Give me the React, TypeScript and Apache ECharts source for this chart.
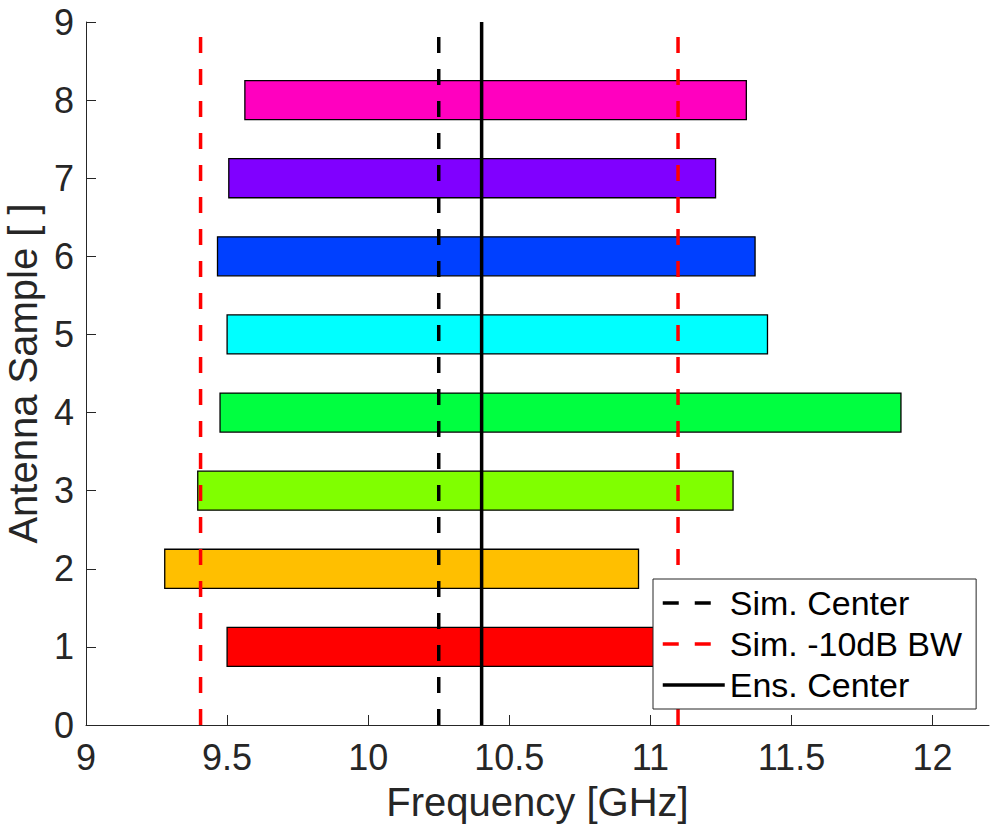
import React, { useEffect, useRef } from "react";
import * as echarts from "echarts";

const samples = [1, 2, 3, 4, 5, 6, 7, 8];
const bandStart = [9.5, 9.279, 9.396, 9.475, 9.5, 9.466, 9.506, 9.563];
const bandEnd = [11.15, 10.958, 11.293, 11.888, 11.415, 11.371, 11.231, 11.34];
const barColors = ["#ff0000", "#ffbf00", "#80ff00", "#00ff40", "#00ffff", "#0040ff", "#8000ff", "#ff00bf"];

const simCenter = 10.25;
const simBwLow = 9.406;
const simBwHigh = 11.098;
const ensCenter = 10.402;

const xTicks = [9, 9.5, 10, 10.5, 11, 11.5, 12];
const yTicks = [0, 1, 2, 3, 4, 5, 6, 7, 8, 9];

const FONT = "'Liberation Sans', Arial, Helvetica, sans-serif";
const AX = "#262626";

export default function App() {
  const ref = useRef<HTMLDivElement>(null);
  useEffect(() => {
    if (!ref.current) return;
    const chart = echarts.init(ref.current, undefined, { renderer: "svg" });
    const barData = samples.map((s, i) => [s, bandStart[i], bandEnd[i]]);
    const vline = (x: number) => [
      [x, 0],
      [x, 9],
    ];
    chart.setOption({
      animation: false,
      backgroundColor: "#ffffff",
      textStyle: { fontFamily: FONT },
      grid: { left: 86, right: 10, top: 22, bottom: 107, containLabel: false, outerBoundsMode: "none" },
      xAxis: {
        type: "value",
        min: 9,
        max: 12.2,
        interval: 0.5,
        name: "Frequency [GHz]",
        nameLocation: "middle",
        nameGap: 57,
        nameTextStyle: { fontSize: 40, color: AX, fontFamily: FONT },
        axisLine: { show: true, lineStyle: { color: AX, width: 1 } },
        axisTick: { show: true, inside: true, length: 10, lineStyle: { color: AX }, customValues: xTicks },
        axisLabel: { fontSize: 36, color: AX, margin: 14, fontFamily: FONT, customValues: xTicks },
        splitLine: { show: false },
      },
      yAxis: {
        type: "value",
        min: 0,
        max: 9,
        interval: 1,
        name: "Antenna Sample [ ]",
        nameLocation: "middle",
        nameGap: 43,
        nameTextStyle: { fontSize: 40, color: AX, fontFamily: FONT },
        axisLine: { show: true, lineStyle: { color: AX, width: 1 } },
        axisTick: { show: true, inside: true, length: 10, lineStyle: { color: AX }, customValues: yTicks },
        axisLabel: { fontSize: 36, color: AX, margin: 12, fontFamily: FONT, customValues: yTicks },
        splitLine: { show: false },
      },
      legend: {
        orient: "vertical",
        left: 653,
        top: 579,
        data: ["Sim. Center", "Sim. -10dB BW", "Ens. Center"],
        backgroundColor: "#ffffff",
        borderColor: AX,
        borderWidth: 1,
        borderRadius: 0,
        padding: [7, 14, 7, 8],
        itemGap: 7,
        itemWidth: 62,
        itemHeight: 14,
        selectedMode: false,
        itemStyle: { opacity: 0 },
        lineStyle: { width: 3.5 },
        textStyle: { fontSize: 34, lineHeight: 34, color: "#000000", fontFamily: FONT },
      },
      series: [
        {
          type: "custom",
          z: 2,
          encode: { x: [1, 2], y: 0 },
          data: barData,
          renderItem: (params: any, api: any) => {
            const y = api.value(0);
            const p0 = api.coord([api.value(1), y + 0.25]);
            const p1 = api.coord([api.value(2), y - 0.25]);
            return {
              type: "rect",
              shape: { x: p0[0], y: p0[1], width: p1[0] - p0[0], height: p1[1] - p0[1] },
              style: { fill: barColors[params.dataIndex], stroke: "#000000", lineWidth: 1.3 },
            };
          },
        },
        {
          name: "Sim. Center",
          type: "line",
          z: 3,
          symbol: "none",
          data: vline(simCenter),
          lineStyle: { color: "#000000", width: 3.5, type: [16, 16] },
          itemStyle: { color: "#000000" },
        },
        {
          name: "Sim. -10dB BW",
          type: "line",
          z: 3,
          symbol: "none",
          data: vline(simBwLow),
          lineStyle: { color: "#ff0000", width: 3.5, type: [16, 16] },
          itemStyle: { color: "#ff0000" },
        },
        {
          name: "Sim. -10dB BW",
          type: "line",
          z: 3,
          symbol: "none",
          data: vline(simBwHigh),
          lineStyle: { color: "#ff0000", width: 3.5, type: [16, 16] },
          itemStyle: { color: "#ff0000" },
        },
        {
          name: "Ens. Center",
          type: "line",
          z: 3,
          symbol: "none",
          data: vline(ensCenter),
          lineStyle: { color: "#000000", width: 3.5 },
          itemStyle: { color: "#000000" },
        },
      ],
    });
    return () => chart.dispose();
  }, []);
  return (
    <div
      ref={ref}
      style={{ position: "fixed", left: 0, top: 0, width: 999, height: 832, background: "#fff" }}
    />
  );
}
